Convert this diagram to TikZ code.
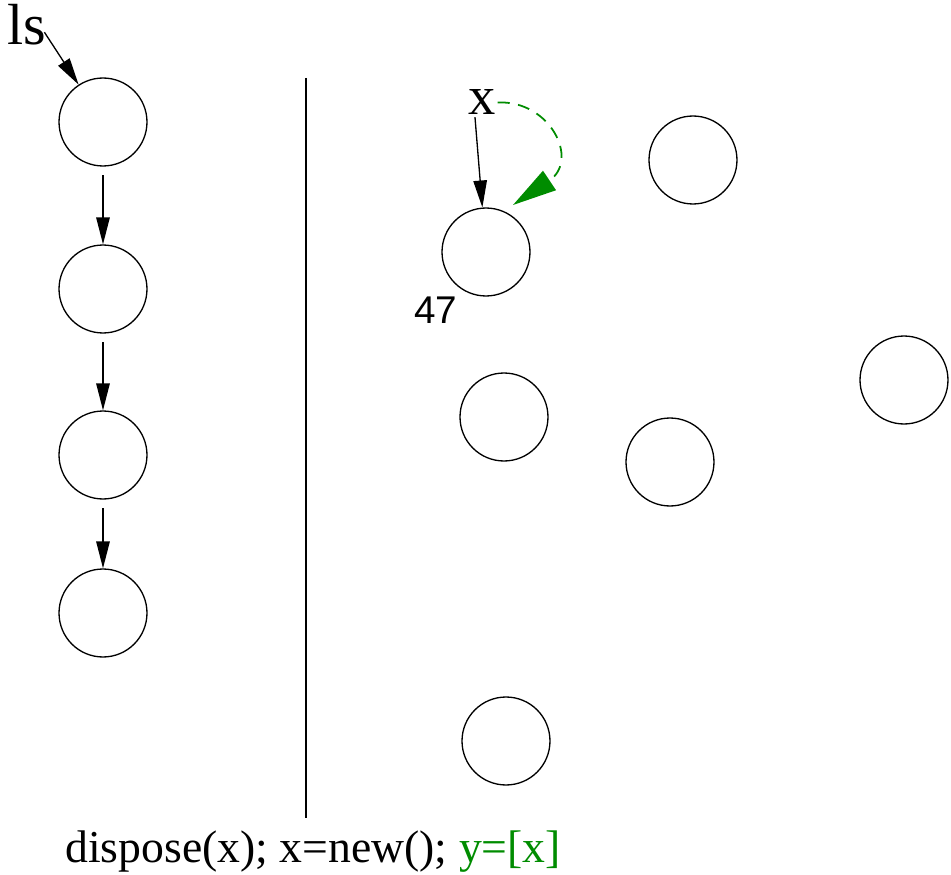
\documentclass[tikz,border=0pt]{standalone}
\usepackage{fontspec}
\setmainfont{Liberation Serif}
\newfontfamily\labelfont{Liberation Sans}
\usepackage{xcolor}
\usetikzlibrary{arrows.meta, positioning}
\definecolor{dkgreen}{RGB}{0,140,0}
\tikzset{
  cell/.style={circle, draw=black, line width=0.75pt, minimum size=1.76cm, inner sep=0pt},
  arrow/.style={-{Triangle[length=0.54cm, width=0.27cm]}, line width=0.75pt},
  greenarrow/.style={-{Triangle[length=0.88cm, width=0.46cm]}, line width=1pt,
                     dkgreen, dash pattern=on 0.24cm off 0.17cm},
  varname/.style={inner sep=1pt, font=\fontsize{33}{36}\selectfont},
}

\begin{document}
\begin{tikzpicture}[x=0.02cm, y=-0.02cm]
  \useasboundingbox (0,0) rectangle (951,875);

  % Left: list ls
  \node[varname, anchor=base west] (ls) at (5,45) {ls};
  \node[cell] (l1) at (103,122) {};
  \node[cell] (l2) at (103,289) {};
  \node[cell] (l3) at (103,455) {};
  \node[cell] (l4) at (103,613) {};

  % Separator
  \coordinate (septop) at (306,78);
  \coordinate (sepbot) at (306,818);
  \draw[line width=0.75pt] (septop) -- (sepbot);

  % Right: scattered cells
  \node[varname, anchor=base, font=\fontsize{31}{34}\selectfont] (x) at (482,115) {x};
  \node[cell] (a) at (486,252) {};
  \node[cell] (b) at (693,160) {};
  \node[cell] (c) at (904,380) {};
  \node[cell] (d) at (504,417) {};
  \node[cell] (e) at (670,462) {};
  \node[cell] (f) at (506,741) {};
  \node[anchor=base, inner sep=0pt, font=\labelfont\fontsize{22}{24}\selectfont] (num) at (436,323) {47};

  % Arrows
  \draw[arrow] ([xshift=-2pt, yshift=-4pt]ls.east) -- (l1);
  \draw[arrow, shorten <=5pt] (l1) -- (l2);
  \draw[arrow, shorten <=5pt] (l2) -- (l3);
  \draw[arrow, shorten <=5pt] (l3) -- (l4);
  \draw[arrow] ([xshift=-4pt]x.south) -- (a);
  \coordinate (tgt) at (513,205);
  \draw[greenarrow] (x.east) .. controls (550,100) and (580,160) .. (tgt);

  % Caption
  \node[anchor=base west, inner sep=0pt, font=\fontsize{26}{29}\selectfont] (cap) at (65,862)
    {dispose(x); x=new(); \textcolor{dkgreen}{y=[x]}};

\end{tikzpicture}
\end{document}
